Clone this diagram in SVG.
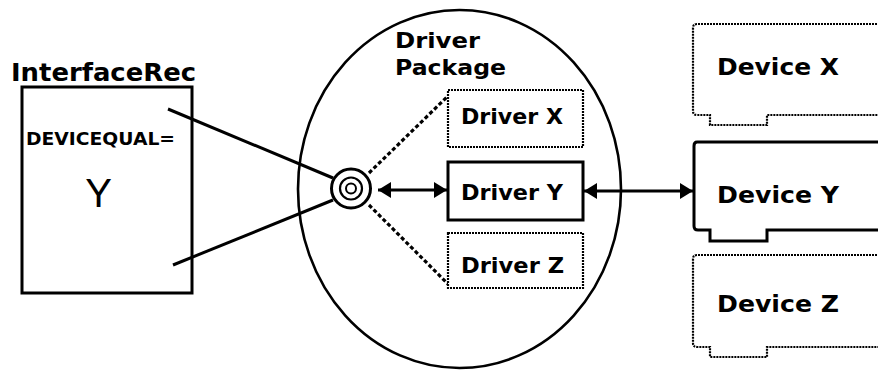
<svg xmlns="http://www.w3.org/2000/svg" width="878" height="370" viewBox="0 0 878 370">
  <style>
    .lbl { font-family: "DejaVu Sans", "Liberation Sans", sans-serif; font-weight: bold; fill: #000; }
    .solid { fill: #fff; stroke: #000; stroke-width: 3; }
    .dotted { fill: #fff; stroke: #000; stroke-width: 2.2; stroke-dasharray: 2 1; }
    .wire { fill: none; stroke: #000; stroke-width: 3; }
    .dash { fill: none; stroke: #000; stroke-width: 3.2; stroke-dasharray: 4 2.5; }
  </style>
  <defs>
    <marker id="head" viewBox="0 0 13 16" refX="13" refY="8" markerWidth="13" markerHeight="16" markerUnits="userSpaceOnUse" orient="auto-start-reverse">
      <path d="M0,0 L13,8 L0,16 Z" fill="#000"/>
    </marker>
  </defs>

  <rect width="878" height="370" fill="#fff"/>

  <!-- Driver package boundary -->
  <g id="driver-package">
    <ellipse cx="459.5" cy="189" rx="161.5" ry="179" fill="none" stroke="#000" stroke-width="2.6"/>
    <text class="lbl" x="395" y="48" font-size="21" textLength="85" lengthAdjust="spacingAndGlyphs">Driver</text>
    <text class="lbl" x="395" y="75" font-size="21" textLength="111" lengthAdjust="spacingAndGlyphs">Package</text>
  </g>

  <!-- InterfaceRec record -->
  <g id="interface-rec">
    <text class="lbl" x="11" y="81" font-size="24" textLength="185" lengthAdjust="spacingAndGlyphs">InterfaceRec</text>
    <rect class="solid" x="22" y="87" width="170" height="206"/>
    <text class="lbl" x="26" y="145" font-size="18" textLength="149" lengthAdjust="spacingAndGlyphs">DEVICEQUAL=</text>
    <text x="98.5" y="207" font-size="40" text-anchor="middle" font-family="Liberation Sans, Arial, sans-serif">Y</text>
  </g>

  <!-- Connectors -->
  <g id="connectors">
    <line class="wire" x1="168" y1="109" x2="333" y2="178"/>
    <line class="wire" x1="173" y1="265" x2="333" y2="200"/>
    <line class="dash" x1="369" y1="173" x2="448" y2="96"/>
    <line class="dash" x1="369" y1="205" x2="448" y2="284"/>
    <line class="wire" x1="378" y1="190" x2="447" y2="190" marker-start="url(#head)" marker-end="url(#head)"/>
    <line class="wire" x1="584" y1="191" x2="693" y2="191" marker-start="url(#head)" marker-end="url(#head)"/>
  </g>

  <!-- Connection point -->
  <g id="port">
    <circle cx="351" cy="188.5" r="19.5" fill="#fff" stroke="#000" stroke-width="3"/>
    <circle cx="351" cy="188.5" r="11" fill="none" stroke="#000" stroke-width="2.2"/>
    <circle cx="351" cy="188.5" r="5" fill="none" stroke="#000" stroke-width="2"/>
  </g>

  <!-- Drivers -->
  <g id="driver-x">
    <rect class="dotted" x="448" y="90" width="135" height="57"/>
    <text class="lbl" x="461" y="124" font-size="21" textLength="102" lengthAdjust="spacingAndGlyphs">Driver X</text>
  </g>
  <g id="driver-y">
    <rect class="solid" x="448" y="162" width="135" height="58"/>
    <text class="lbl" x="461" y="200" font-size="21" textLength="102" lengthAdjust="spacingAndGlyphs">Driver Y</text>
  </g>
  <g id="driver-z">
    <rect class="dotted" x="448" y="233" width="135" height="55"/>
    <text class="lbl" x="461" y="273" font-size="21" textLength="103" lengthAdjust="spacingAndGlyphs">Driver Z</text>
  </g>

  <!-- Devices (card outlines with edge tab) -->
  <g id="device-x">
    <path class="dotted" d="M880,24 H697 Q693,24 693,28 V111 Q693,115 697,115 H710 V125 H767 V115 H880"/>
    <text class="lbl" x="717" y="75" font-size="23" textLength="122" lengthAdjust="spacingAndGlyphs">Device X</text>
  </g>
  <g id="device-y">
    <path class="solid" d="M880,142 H697 Q694,142 694,146 V226 Q694,230 698,230 H710 V241 H767 V230 H880"/>
    <text class="lbl" x="717" y="203" font-size="23" textLength="122" lengthAdjust="spacingAndGlyphs">Device Y</text>
  </g>
  <g id="device-z">
    <path class="dotted" d="M880,255 H697 Q693,255 693,259 V343 Q693,347 697,347 H710 V357 H767 V347 H880"/>
    <text class="lbl" x="717" y="312" font-size="23" textLength="122" lengthAdjust="spacingAndGlyphs">Device Z</text>
  </g>
</svg>
